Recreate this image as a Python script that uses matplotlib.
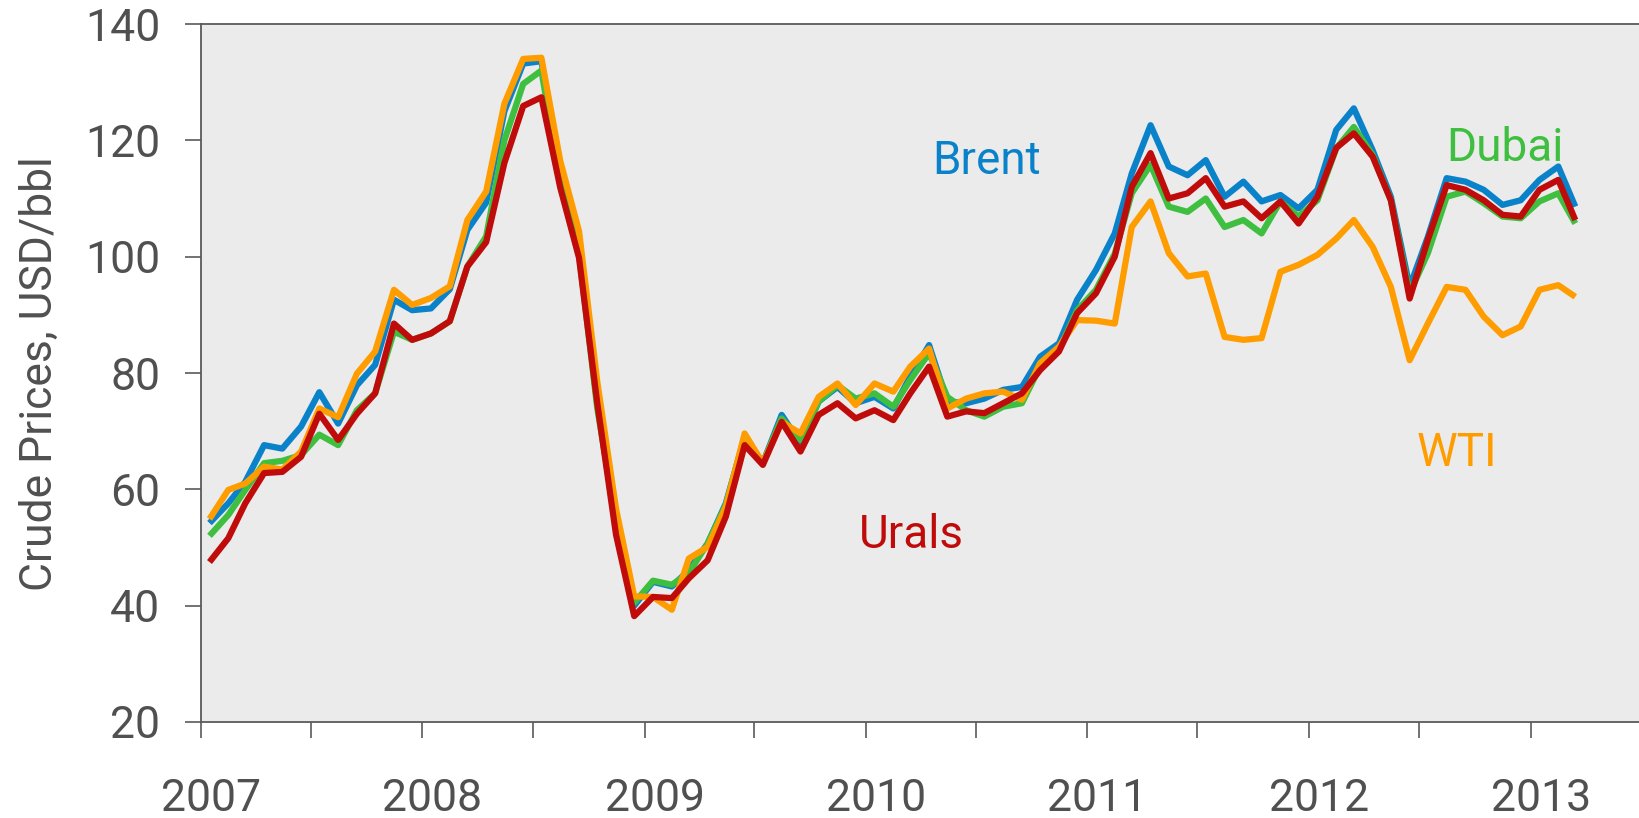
#!/usr/bin/env python3
"""Crude oil benchmark prices (Brent, Dubai, Urals, WTI), monthly, 2007-2013."""

import matplotlib
matplotlib.use("Agg")
import matplotlib.dates as mdates
import matplotlib.pyplot as plt
import matplotlib.transforms as mtransforms
import pandas as pd

# Monthly averages, Jan 2007 .. Mar 2013 (USD/bbl)
MONTHS = pd.date_range("2007-01-01", "2013-03-01", freq="MS") + pd.Timedelta(days=14)

BRENT = [
    54.2, 57.6, 61.3, 67.6, 67.0, 70.8, 76.7, 71.3, 77.9, 81.4, 92.6, 90.8,
    91.1, 94.4, 104.6, 109.3, 125.0, 133.2, 133.6, 115.0, 101.3, 74.9, 53.7, 40.0,
    44.1, 43.3, 46.1, 50.7, 57.6, 69.0, 64.5, 72.8, 67.9, 75.1, 77.6, 74.8,
    75.9, 73.9, 79.4, 84.8, 75.1, 74.8, 75.6, 77.1, 77.6, 82.8, 85.1, 92.6,
    97.7, 104.0, 114.3, 122.6, 115.5, 114.0, 116.6, 110.3, 112.9, 109.5, 110.6, 108.3,
    111.5, 121.8, 125.5, 118.3, 110.3, 94.8, 103.4, 113.5, 112.9, 111.5, 108.9, 109.7,
    113.2, 115.5, 108.6,
]
DUBAI = [
    52.0, 55.6, 59.9, 64.5, 64.9, 65.9, 69.4, 67.6, 73.6, 76.5, 87.1, 85.7,
    86.8, 88.9, 98.3, 103.5, 120.0, 129.7, 132.0, 113.0, 100.5, 74.0, 54.5, 40.5,
    44.3, 43.6, 45.6, 50.7, 57.3, 69.0, 64.5, 72.2, 68.5, 75.1, 77.9, 75.6,
    76.5, 74.2, 78.8, 83.4, 75.9, 73.6, 72.5, 74.2, 74.8, 81.1, 84.0, 90.8,
    94.3, 100.5, 110.9, 115.8, 108.6, 107.7, 110.0, 105.1, 106.3, 104.0, 109.5, 106.9,
    109.7, 118.6, 122.3, 117.5, 109.7, 93.7, 100.6, 110.3, 111.2, 109.2, 106.9, 106.6,
    109.5, 110.9, 105.7,
]
URALS = [
    47.5, 51.6, 57.6, 62.8, 63.0, 65.6, 73.0, 68.5, 73.0, 76.5, 88.5, 85.7,
    86.8, 88.9, 98.3, 102.5, 116.1, 125.9, 127.4, 111.9, 99.8, 74.9, 52.2, 38.2,
    41.5, 41.3, 44.7, 47.8, 55.3, 67.6, 64.2, 71.6, 66.5, 72.8, 74.8, 72.2,
    73.6, 71.9, 76.5, 81.1, 72.5, 73.4, 73.1, 74.8, 76.5, 80.5, 83.7, 90.3,
    93.7, 100.0, 112.0, 117.8, 110.0, 110.9, 113.5, 108.6, 109.5, 106.6, 109.5, 105.7,
    110.3, 118.7, 121.2, 117.2, 109.7, 92.8, 102.9, 112.3, 111.5, 109.7, 107.2, 106.9,
    111.5, 113.2, 106.3,
]
WTI = [
    54.9, 59.9, 61.0, 63.9, 63.4, 66.5, 73.9, 72.4, 79.9, 83.7, 94.3, 91.7,
    92.9, 94.9, 106.3, 111.2, 126.3, 134.0, 134.2, 116.5, 104.4, 78.6, 56.7, 41.6,
    41.5, 39.3, 48.1, 50.1, 57.0, 69.6, 64.5, 71.6, 69.6, 75.9, 78.2, 74.5,
    78.2, 76.8, 81.1, 84.2, 73.9, 75.6, 76.5, 76.8, 75.4, 81.7, 84.5, 89.1,
    89.0, 88.5, 105.1, 109.5, 100.6, 96.6, 97.1, 86.2, 85.7, 86.0, 97.4, 98.6,
    100.3, 103.1, 106.3, 101.7, 94.8, 82.2, 88.5, 94.8, 94.3, 89.7, 86.5, 88.0,
    94.3, 95.1, 93.1,
]

# draw order: red ends up on top
SERIES = [
    ("Brent", BRENT, "#0A82CA"),
    ("Dubai", DUBAI, "#3FBF3F"),
    ("WTI", WTI, "#FF9D00"),
    ("Urals", URALS, "#C00B0B"),
]

# where the series names sit (date, price at baseline)
LABELS = {
    "Brent": ("2010-04-20", 114.2),
    "Dubai": ("2012-08-15", 116.5),
    "WTI": ("2012-06-26", 64.0),
    "Urals": ("2009-12-20", 49.9),
}

TEXT_GREY = "#505050"
AXIS_GREY = "#5A5A5A"
FONT = ["Roboto", "DejaVu Sans"]


def main():
    plt.rcParams["font.family"] = FONT

    fig = plt.figure(figsize=(16.39, 8.18), dpi=100)
    ax = fig.add_axes([201 / 1639, 96 / 818, 1438 / 1639, 698 / 818])
    ax.set_facecolor("#EBEBEB")

    for name, values, color in SERIES:
        ax.plot(MONTHS, values, color=color, lw=4.5, solid_joinstyle="round",
                solid_capstyle="butt", label=name)

    for name, values, color in SERIES:
        when, price = LABELS[name]
        ax.text(pd.Timestamp(when), price, name, color=color, fontsize=33,
                ha="left", va="baseline")

    ax.set_ylim(20, 140)
    ax.set_yticks(range(20, 141, 20))
    ax.set_xlim(pd.Timestamp("2007-01-01"), pd.Timestamp("2013-06-28"))

    ax.xaxis.set_major_locator(mdates.YearLocator())
    ax.xaxis.set_major_formatter(mdates.DateFormatter("%Y"))
    ax.xaxis.set_minor_locator(mdates.MonthLocator(bymonth=7))

    ax.spines["right"].set_visible(False)
    for side in ["left", "bottom", "top"]:
        ax.spines[side].set_color(AXIS_GREY)
        ax.spines[side].set_linewidth(1.3)

    ax.tick_params(axis="both", which="both", direction="out", length=11.5,
                   width=1.2, color=AXIS_GREY, labelcolor=TEXT_GREY, labelsize=32)
    ax.tick_params(axis="y", pad=18)
    ax.tick_params(axis="x", which="major", pad=29)

    # year labels sit a little right of their tick
    shift = mtransforms.ScaledTranslation(10 / 100, 0, fig.dpi_scale_trans)
    for lab in ax.get_xticklabels():
        lab.set_transform(lab.get_transform() + shift)

    fig.text(40 / 1639, 1 - 374 / 818, "Crude Prices, USD/bbl", rotation=90,
             ha="center", va="center", fontsize=32, color=TEXT_GREY)

    fig.savefig("out.png", dpi=100)
    plt.close(fig)


if __name__ == "__main__":
    main()
